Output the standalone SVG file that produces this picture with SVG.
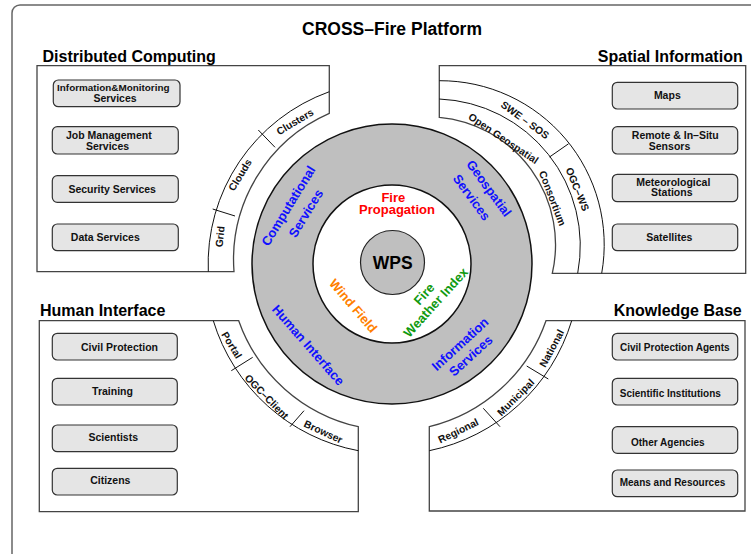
<svg xmlns="http://www.w3.org/2000/svg" width="751" height="554" viewBox="0 0 751 554">
<defs>
<style>
text{font-family:"Liberation Sans",Arial,sans-serif;font-weight:bold;}
.title{font-size:17.5px;fill:#000;}
.sec{font-size:16px;fill:#000;}
.node rect{fill:#e5e5e5;stroke:#333;stroke-width:1.2;}
.nt{font-size:10.5px;fill:#111;text-anchor:middle;}
.kt{font-size:10px;fill:#111;text-anchor:middle;}
.box{fill:#fff;stroke:#444;stroke-width:1.3;}
.arc{fill:none;stroke:#111;stroke-width:1;}
.at{font-size:10.3px;fill:#111;text-anchor:middle;}
.ring{font-size:13px;fill:#1010ff;text-anchor:middle;}
.ct{font-size:13px;text-anchor:middle;}
</style>
</defs>
<rect width="751" height="554" fill="#fff"/>
<rect x="12" y="5" width="800" height="620" rx="8" fill="none" stroke="#666" stroke-width="1.5"/>
<text class="title" x="392" y="35" text-anchor="middle">CROSS–Fire Platform</text>

<g id="distributed-computing">
<text class="sec" x="42.5" y="61.5">Distributed Computing</text>
<path class="box" d="M37,65.7 H329.3 V113.3 A160,160 0 0 0 234,271.7 H37 Z"/>
<path class="arc" d="M208.3,271.7 A183,183 0 0 1 329.3,91.7"/>
<path class="arc" d="M212.7,209 L235,216 M258.3,130 L275,147.3"/>
<text class="at" transform="translate(220,236.7) rotate(-84)" dy="0.35em">Grid</text>
<text class="at" transform="translate(240,175) rotate(-59)" dy="0.35em">Clouds</text>
<text class="at" transform="translate(295,121.7) rotate(-31)" dy="0.35em">Clusters</text>
</g>
<g id="n-info-monitoring" class="node"><rect x="53.3" y="80" width="126.7" height="26.7" rx="5"/>
<text class="nt" style="font-size:9.9px" x="113.3" y="91.3">Information&amp;Monitoring</text>
<text class="nt" x="115" y="102">Services</text></g>
<g id="n-job-management" class="node"><rect x="52.3" y="126.7" width="126" height="27.3" rx="5"/>
<text class="nt" x="108.8" y="139.2">Job Management</text>
<text class="nt" x="107.5" y="149.8">Services</text></g>
<g id="n-security" class="node"><rect x="52.3" y="175.7" width="126" height="26.6" rx="5"/>
<text class="nt" x="112.2" y="192.7">Security Services</text></g>
<g id="n-data" class="node"><rect x="52.3" y="224" width="126" height="26.7" rx="5"/>
<text class="nt" x="105.3" y="241.3">Data Services</text></g>

<g id="spatial-information">
<text class="sec" x="742.7" y="61.5" text-anchor="end">Spatial Information</text>
<path class="box" d="M439.3,65.7 H745.7 V273.3 H552.3 A128,128 0 0 0 439.3,117.3 Z"/>
<path class="arc" d="M439.3,99 A147,147 0 0 1 577.7,273.3"/>
<path class="arc" d="M439.3,80.7 A164,164 0 0 1 601.7,273.3"/>
<path class="arc" d="M549.5,157 L568.5,143.8"/>
<text class="at" transform="translate(525,120) rotate(36)" dy="0.35em">SWE – SOS</text>
<text class="at" transform="translate(503.5,138.5) rotate(34)" dy="0.35em">Open Geospatial</text>
<text class="at" transform="translate(552.5,198.3) rotate(69)" dy="0.35em">Consortium</text>
<text class="at" transform="translate(577.5,189.2) rotate(68)" dy="0.35em">OGC–WS</text>
</g>
<g id="n-maps" class="node"><rect x="612.3" y="82.3" width="125.4" height="26.7" rx="5"/>
<text class="nt" x="667.3" y="99">Maps</text></g>
<g id="n-remote" class="node"><rect x="612.3" y="126.7" width="125.4" height="27.3" rx="5"/>
<text class="nt" x="675.3" y="139.2">Remote &amp; In–Situ</text>
<text class="nt" x="669.5" y="149.8">Sensors</text></g>
<g id="n-meteo" class="node"><rect x="612.3" y="174.3" width="125.4" height="27.4" rx="5"/>
<text class="nt" x="673.3" y="185.5">Meteorological</text>
<text class="nt" x="671.8" y="196.2">Stations</text></g>
<g id="n-satellites" class="node"><rect x="612.3" y="224" width="125.4" height="26.7" rx="5"/>
<text class="nt" x="669.3" y="241.3">Satellites</text></g>

<g id="human-interface">
<text class="sec" x="40" y="315.7">Human Interface</text>
<path class="box" d="M39.3,320.7 H238.7 A165,165 0 0 0 358.3,426.7 V511.7 H39.3 Z"/>
<path class="arc" d="M213.3,320.7 A188,188 0 0 0 358.3,450.7"/>
<path class="arc" d="M231.3,370.7 L252.7,357.3 M290,426.7 L304,410.7"/>
<text class="at" transform="translate(231.7,345) rotate(58.5)" dy="0.35em">Portal</text>
<text class="at" transform="translate(266.7,396.7) rotate(46)" dy="0.35em">OGC–Client</text>
<text class="at" transform="translate(323.3,431.7) rotate(25)" dy="0.35em">Browser</text>
</g>
<g id="n-civil-protection" class="node"><rect x="52.3" y="333.3" width="125" height="26.7" rx="5"/>
<text class="nt" x="119.5" y="350.7">Civil Protection</text></g>
<g id="n-training" class="node"><rect x="52.3" y="378.3" width="125" height="26.7" rx="5"/>
<text class="nt" x="112.5" y="395">Training</text></g>
<g id="n-scientists" class="node"><rect x="52.3" y="425" width="125" height="26.7" rx="5"/>
<text class="nt" x="113.2" y="440.7">Scientists</text></g>
<g id="n-citizens" class="node"><rect x="52.3" y="468.3" width="125" height="26.7" rx="5"/>
<text class="nt" x="110.3" y="484">Citizens</text></g>

<g id="knowledge-base">
<text class="sec" x="741.7" y="315.7" text-anchor="end">Knowledge Base</text>
<path class="box" d="M546,320.7 H745 V511 H429.3 V426.7 A165,165 0 0 0 546,320.7 Z"/>
<path class="arc" d="M429.3,450.7 A189,189 0 0 0 571.7,320.7"/>
<path class="arc" d="M483.3,408.3 L500,426.7 M526.7,366 L548.3,379"/>
<text class="at" transform="translate(458.3,430.7) rotate(-26)" dy="0.35em">Regional</text>
<text class="at" transform="translate(515.7,397.3) rotate(-45)" dy="0.35em">Municipal</text>
<text class="at" transform="translate(551.7,348.3) rotate(-62)" dy="0.35em">National</text>
</g>
<g id="n-cp-agents" class="node"><rect x="612.3" y="333.3" width="125.4" height="26.7" rx="5"/>
<text class="kt" x="674.8" y="351">Civil Protection Agents</text></g>
<g id="n-sci-inst" class="node"><rect x="612.3" y="378.3" width="125.4" height="26.7" rx="5"/>
<text class="kt" x="670.3" y="396.7">Scientific Institutions</text></g>
<g id="n-other-agencies" class="node"><rect x="612.3" y="426.7" width="125.4" height="26.6" rx="5"/>
<text class="kt" x="667.8" y="445.7">Other Agencies</text></g>
<g id="n-means" class="node"><rect x="612.3" y="470" width="125.4" height="26.7" rx="5"/>
<text class="kt" x="672.5" y="486">Means and Resources</text></g>

<g id="core">
<circle cx="392" cy="264" r="140" fill="#bfbfbf" stroke="#111" stroke-width="1.5"/>
<circle cx="392" cy="264" r="79" fill="#fff" stroke="#111" stroke-width="1.5"/>
<circle cx="392.5" cy="262.5" r="32" fill="#bfbfbf" stroke="#222" stroke-width="1.2"/>
<text class="ring" transform="translate(288.3,205.8) rotate(-58.5)" dy="0.35em">Computational</text>
<text class="ring" transform="translate(305.8,213.3) rotate(-58.5)" dy="0.35em">Services</text>
<text class="ring" transform="translate(489,188.3) rotate(53.7)" dy="0.35em">Geospatial</text>
<text class="ring" transform="translate(471.7,197.3) rotate(53.7)" dy="0.35em">Services</text>
<text class="ring" transform="translate(308.3,345) rotate(48.8)" dy="0.35em">Human Interface</text>
<text class="ring" transform="translate(460,344) rotate(-42.4)" dy="0.35em">Information</text>
<text class="ring" transform="translate(470.7,355.7) rotate(-42.4)" dy="0.35em">Services</text>
<text class="ct" fill="#ff0000" x="393.3" y="201.8">Fire</text>
<text class="ct" fill="#ff0000" x="397" y="214">Propagation</text>
<text class="ct" fill="#ff8000" transform="translate(353.3,305.7) rotate(49.7)" dy="0.35em">Wind Field</text>
<text class="ct" fill="#109a10" transform="translate(424,294) rotate(-48)" dy="0.35em">Fire</text>
<text class="ct" fill="#109a10" transform="translate(435.7,302.3) rotate(-47.8)" dy="0.35em">Weather Index</text>
<text x="392.7" y="269" text-anchor="middle" style="font-size:17.5px" fill="#000">WPS</text>
</g>
</svg>
